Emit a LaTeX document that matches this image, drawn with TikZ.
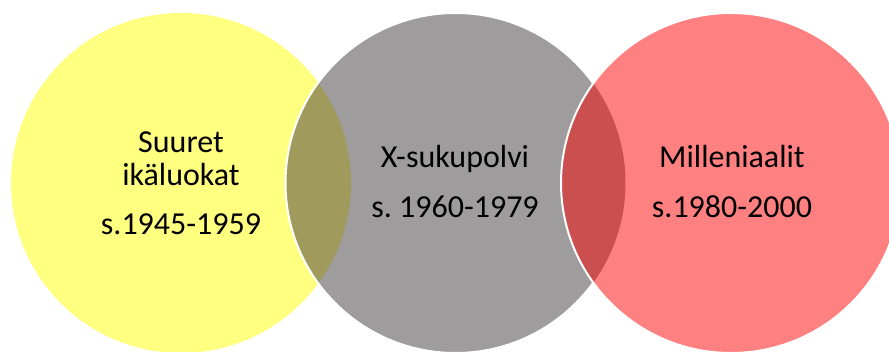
\documentclass[tikz,border=0pt]{standalone}
\usepackage{fontspec}
\setmainfont{Carlito}
\frenchspacing
\definecolor{cYellow}{HTML}{FFFF80}
\definecolor{cGray}{HTML}{9F9C9D}
\definecolor{cRed}{HTML}{FF8080}
\definecolor{cOlive}{HTML}{A09A5C}
\definecolor{cDarkRed}{HTML}{CC4F4F}
\begin{document}
\begin{tikzpicture}[x=1pt,y=-1pt,
  label/.style={font=\fontsize{32}{35}\selectfont, text=black, anchor=base, inner sep=0pt},
  rim/.style={draw=white, line width=2pt}]
\useasboundingbox (0,0) rectangle (889,351);
\clip (0,0) rectangle (889,351);
% circle centres
\coordinate (cy) at (181,183);
\coordinate (cg) at (455.5,183);
\coordinate (cr) at (731,183);
% yellow circle
\fill[cYellow] (cy) circle[radius=170];
% grey circle and its overlap with yellow
\fill[cGray] (cg) circle[radius=170];
\begin{scope}
  \clip (cy) circle[radius=170];
  \fill[cOlive] (cg) circle[radius=170];
\end{scope}
\draw[rim] (cg) circle[radius=170];
% red circle and its overlap with grey
\fill[cRed] (cr) circle[radius=170];
\begin{scope}
  \clip (cg) circle[radius=170];
  \fill[cDarkRed] (cr) circle[radius=170];
\end{scope}
\draw[rim] (cr) circle[radius=170];
% labels
\node[label] (y1) at (181,152) {Suuret};
\node[label] (y2) at (181,185) {ikäluokat};
\node[label] (y3) at (181,234) {s.1945-1959};
\node[label] (g1) at (455,167) {X-sukupolvi};
\node[label] (g2) at (455,217) {s. 1960-1979};
\node[label] (r1) at (732,167) {Milleniaalit};
\node[label] (r2) at (732,217) {s.1980-2000};
\end{tikzpicture}
\end{document}
